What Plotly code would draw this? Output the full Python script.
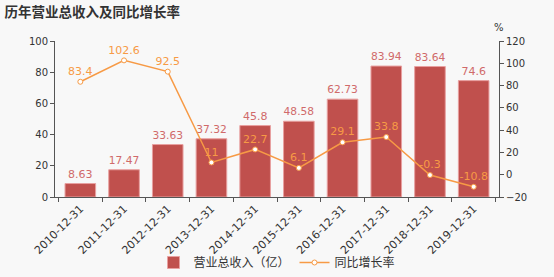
import plotly.graph_objects as go

dates = ["2010-12-31", "2011-12-31", "2012-12-31", "2013-12-31", "2014-12-31",
         "2015-12-31", "2016-12-31", "2017-12-31", "2018-12-31", "2019-12-31"]
revenue = [8.63, 17.47, 33.63, 37.32, 45.8, 48.58, 62.73, 83.94, 83.64, 74.6]
growth = [83.4, 102.6, 92.5, 11, 22.7, 6.1, 29.1, 33.8, -0.3, -10.8]
rev_labels = ["8.63", "17.47", "33.63", "37.32", "45.8", "48.58", "62.73", "83.94", "83.64", "74.6"]
growth_labels = ["83.4", "102.6", "92.5", "11", "22.7", "6.1", "29.1", "33.8", "-0.3", "-10.8"]

bar_color = "#c0504d"
line_color = "#f79a45"
font = "DejaVu Sans, Noto Sans CJK SC"

fig = go.Figure()
fig.add_trace(go.Bar(
    x=dates, y=revenue, name="营业总收入（亿）",
    marker=dict(color=bar_color, line=dict(color="#e8a0a0", width=1)),
    width=0.7,
    text=rev_labels, textposition="outside", cliponaxis=False,
    textfont=dict(color="#d06a6a", size=11, family=font),
))
fig.add_trace(go.Scatter(
    x=dates, y=growth, name="同比增长率", yaxis="y2",
    mode="lines+markers+text",
    line=dict(color=line_color, width=1.5),
    marker=dict(size=5, color="white", line=dict(color=line_color, width=1)),
    text=growth_labels, textposition="top center", cliponaxis=False,
    textfont=dict(color=line_color, size=11, family=font),
))

axis_common = dict(showgrid=False, zeroline=False, showline=True, linecolor="#555",
                   linewidth=1, ticks="outside", ticklen=4, tickcolor="#555",
                   automargin=False,
                   tickfont=dict(size=10, color="#333", family=font))

fig.update_layout(
    width=554, height=277,
    margin=dict(l=55, r=55, t=41, b=80),
    paper_bgcolor="#f8f8f8", plot_bgcolor="#f8f8f8",
    font=dict(family=font),
    title=dict(text="<b>历年营业总收入及同比增长率</b>", x=0.008, xanchor="left",
               y=0.955, yanchor="middle", font=dict(size=13.5, color="#333", family=font)),
    xaxis=dict(type="category", showgrid=False, showline=True, linecolor="#555", ticks="outside",
               ticklen=4, tickcolor="#555", tickangle=-45, tickson="boundaries",
               automargin=False,
               tickfont=dict(size=11, color="#333", family=font)),
    yaxis=dict(range=[0, 100], dtick=20, **axis_common),
    yaxis2=dict(range=[-20, 120], dtick=20, overlaying="y", side="right", **axis_common),
    legend=dict(orientation="h", x=0.5, xanchor="center", y=0.0, yref="container",
                yanchor="bottom",
                font=dict(size=12, color="#333", family=font),
                bgcolor="rgba(0,0,0,0)"),
    annotations=[dict(text="%", x=1.0, xref="paper", y=1.0, yref="paper", xanchor="center",
                      yanchor="bottom", yshift=6, showarrow=False,
                      font=dict(size=10, color="#333", family=font))],
)

fig.write_html("out.html")
